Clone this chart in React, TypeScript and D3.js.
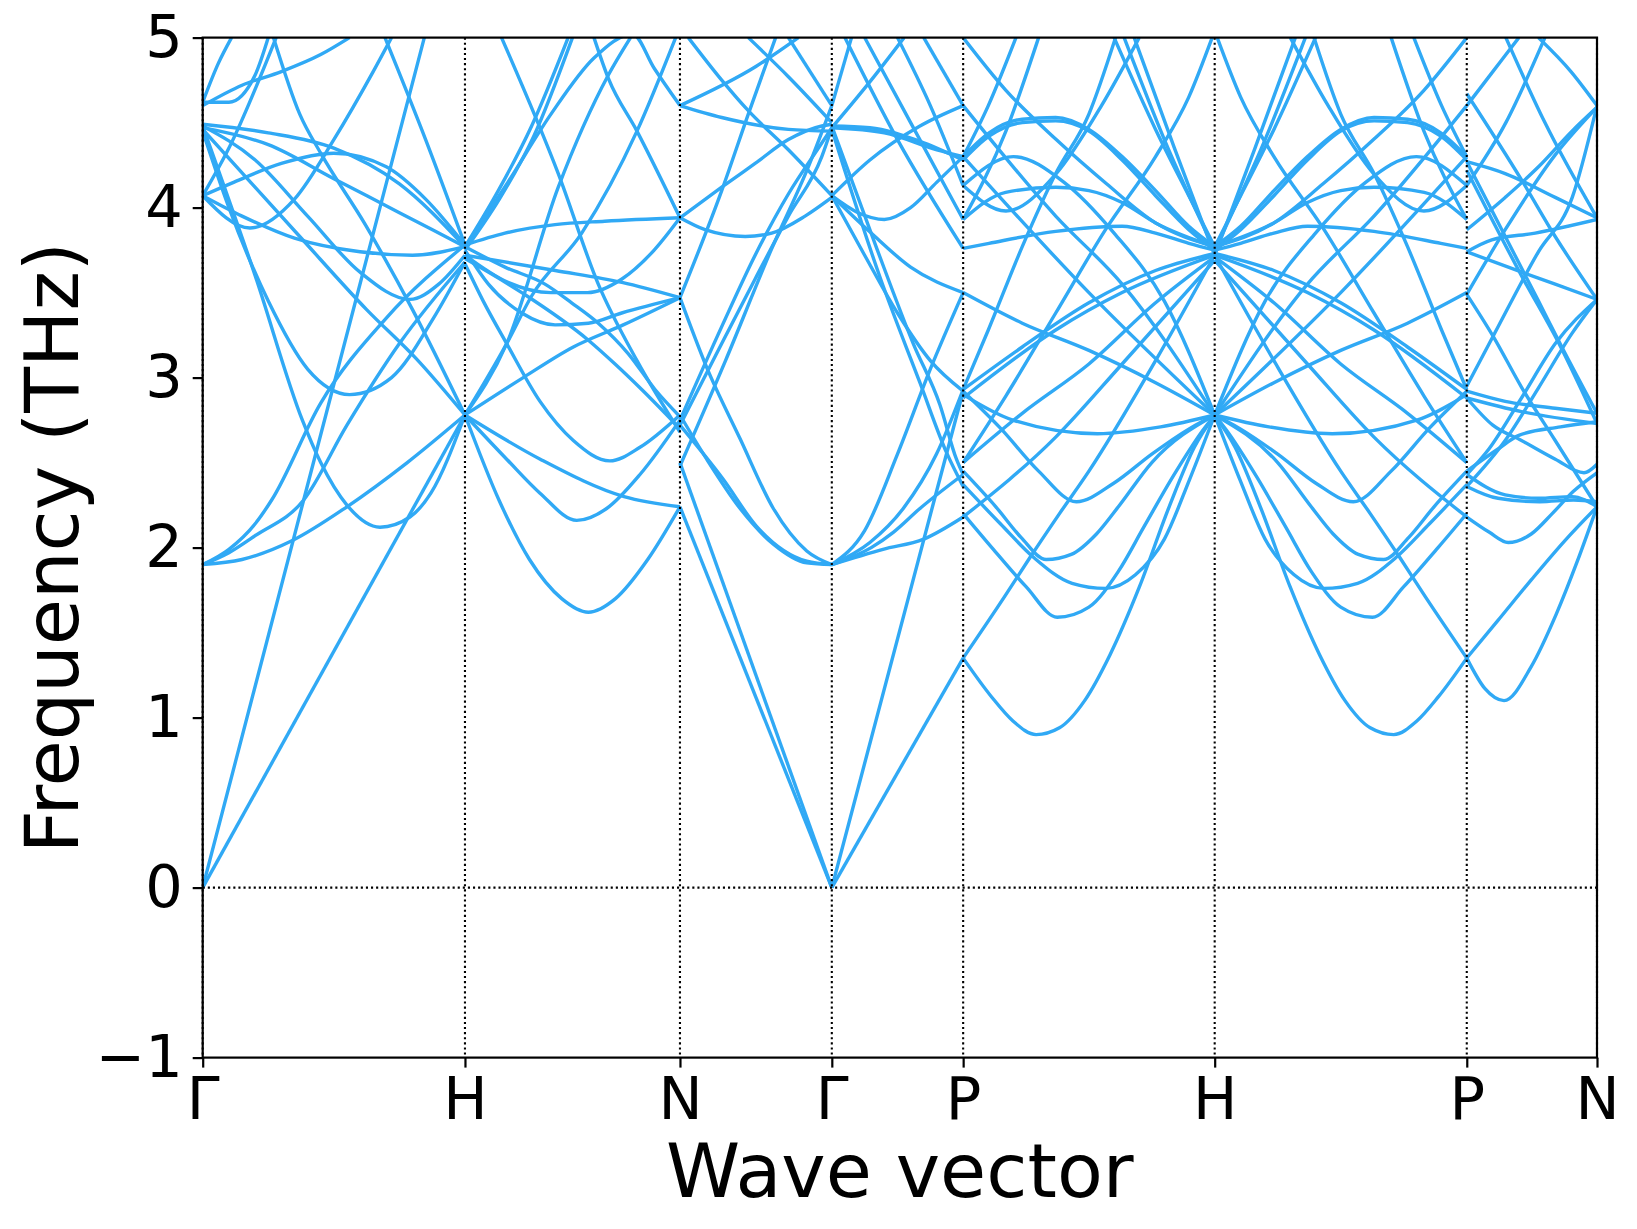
import React, { useEffect, useRef } from 'react';
import * as d3 from 'd3';

type Band = [number, number][]; // [fraction along segment, frequency THz]

const kLabels = ['Γ', 'H', 'N', 'Γ', 'P', 'H', 'P', 'N'];
const kTicks = [0, 0.1881, 0.3423, 0.4512, 0.5454, 0.7258, 0.9066, 1.0];
const yTicks = [-1, 0, 1, 2, 3, 4, 5];

// Γ -> H
const bandsGH: Band[] = [
  [[0, 0], [1, 2.78]],
  [[0, 0], [0.385, 2.28], [0.845, 5.0]],
  [[0, 1.9], [0.15, 1.93], [0.34, 2.04], [0.55, 2.24], [0.78, 2.5], [1, 2.78]],
  [[0, 1.9], [0.1, 1.97], [0.2, 2.07], [0.385, 2.28], [0.55, 2.72], [0.75, 3.2], [1, 3.68]],
  [[0, 1.9], [0.1, 1.99], [0.2, 2.14], [0.263, 2.28], [0.45, 2.85], [0.7, 3.35], [1, 3.78]],
  [[0, 4.48], [0.2, 3.6], [0.38, 2.75], [0.45, 2.5], [0.55, 2.25], [0.676, 2.12], [0.79, 2.18], [0.87, 2.32], [1, 2.78]],
  [[0, 4.45], [0.1, 4.0], [0.25, 3.45], [0.4, 3.05], [0.56, 2.9], [0.72, 3.0], [0.88, 3.35], [1, 3.68]],
  [[0, 4.48], [0.2, 4.28], [0.4, 3.95], [0.6, 3.62], [0.79, 3.46], [0.9, 3.55], [1, 3.72]],
  [[0, 4.07], [0.15, 3.95], [0.35, 3.82], [0.6, 3.74], [0.8, 3.72], [1, 3.77]],
  [[0, 4.07], [0.18, 3.88], [0.35, 4.05], [0.5, 4.4], [0.65, 4.8], [0.72, 5.0]],
  [[0, 4.07], [0.12, 4.15], [0.3, 4.26], [0.5, 4.32], [0.7, 4.24], [0.85, 4.05], [1, 3.78]],
  [[0, 4.49], [0.25, 4.44], [0.5, 4.35], [0.75, 4.14], [1, 3.77]],
  [[0, 4.47], [0.25, 4.37], [0.5, 4.17], [0.75, 3.97], [1, 3.77]],
  [[0, 4.46], [0.37, 3.83], [0.625, 3.4], [0.815, 3.11], [1, 2.78]],
  [[0, 4.62], [0.06, 4.85], [0.11, 5.0]],
  [[0, 4.6], [0.15, 4.72], [0.3, 4.8], [0.45, 4.9], [0.56, 5.0]],
  [[0.695, 5.0], [0.85, 4.4], [1, 3.78]],
  [[0, 4.07], [0.1, 4.35], [0.28, 5.0]],
  [[0, 4.62], [0.1, 4.62], [0.2, 4.78], [0.25, 5.0]],
  [[0.27, 5.0], [0.37, 4.55], [0.45, 4.32], [0.62, 3.9], [0.8, 3.4], [1, 2.78]],
];

// H -> N
const bandsHN: Band[] = [
  [[0, 3.77], [0.155, 4.1], [0.31, 4.48], [0.48, 5.0]],
  [[0, 3.75], [0.16, 4.05], [0.32, 4.42], [0.5, 5.0]],
  [[0, 3.77], [0.2, 4.15], [0.4, 4.55], [0.6, 4.88], [0.78, 5.02], [0.88, 4.82], [1, 4.6]],
  [[0.17, 5.0], [0.434, 4.2], [0.62, 3.55], [0.8, 3.1], [1, 2.68]],
  [[0, 2.78], [0.194, 3.2], [0.434, 4.12], [0.667, 4.78], [0.77, 5.0]],
  [[0, 3.72], [0.2, 3.56], [0.4, 3.5], [0.57, 3.5], [0.73, 3.58], [0.88, 3.75], [1, 3.94]],
  [[0.6, 5.0], [0.667, 4.76], [0.8, 4.45], [1, 3.94]],
  [[0, 2.78], [0.158, 2.28], [0.3, 1.93], [0.45, 1.7], [0.574, 1.62], [0.7, 1.7], [0.85, 1.93], [1, 2.24]],
  [[0, 2.78], [0.194, 2.52], [0.349, 2.32], [0.52, 2.16], [0.659, 2.23], [0.814, 2.43], [1, 2.75]],
  [[0, 2.78], [0.35, 2.52], [0.74, 2.3], [1, 2.24]],
  [[0, 3.67], [0.085, 3.45], [0.194, 3.2], [0.349, 2.86], [0.504, 2.63], [0.674, 2.51], [0.814, 2.59], [1, 2.78]],
  [[0, 2.78], [0.271, 3.0], [0.504, 3.18], [0.736, 3.31], [1, 3.47]],
  [[0, 3.75], [0.109, 3.55], [0.264, 3.38], [0.419, 3.31], [0.574, 3.32], [0.729, 3.38], [1, 3.47]],
  [[0, 3.72], [0.42, 3.63], [0.73, 3.56], [1, 3.47]],
  [[0, 3.78], [0.186, 3.85], [0.419, 3.9], [0.65, 3.92], [1, 3.94]],
  [[0, 3.77], [0.186, 3.65], [0.372, 3.55], [0.496, 3.44], [0.62, 3.32], [0.76, 3.14], [0.884, 2.93], [1, 2.77]],
  [[0, 3.7], [0.264, 3.5], [0.574, 3.22], [0.698, 3.08], [0.822, 2.93], [1, 2.7]],
  [[0, 2.78], [0.194, 3.2], [0.31, 3.48], [0.543, 3.85], [0.8, 4.45], [0.98, 5.0]],
];

// N -> Γ
const bandsNG: Band[] = [
  [[0, 4.6], [0.5, 4.83], [0.78, 5.0]],
  [[0, 4.6], [0.275, 4.53], [0.714, 4.46], [1, 4.45]],
  [[0.055, 5.0], [0.275, 4.75], [0.45, 4.57], [0.714, 4.34], [1, 4.07]],
  [[0, 3.94], [0.275, 4.12], [0.495, 4.26], [0.714, 4.4], [0.934, 4.48], [1, 4.49]],
  [[0, 3.94], [0.165, 3.87], [0.43, 3.83], [0.604, 3.85], [0.824, 3.95], [1, 4.06]],
  [[0, 3.47], [0.275, 4.1], [0.45, 4.55], [0.63, 5.0]],
  [[0, 3.47], [0.176, 3.06], [0.396, 2.64], [0.615, 2.23], [0.835, 1.98], [1, 1.9]],
  [[0, 2.78], [0.176, 2.52], [0.396, 2.23], [0.615, 2.02], [0.835, 1.91], [1, 1.9]],
  [[0, 2.72], [0.286, 2.4], [0.5, 2.13], [0.835, 1.92], [1, 1.9]],
  [[0, 2.24], [1, 0]],
  [[0, 2.5], [1, 0]],
  [[0, 2.75], [0.275, 3.3], [0.495, 3.72], [0.714, 4.08], [0.934, 4.38], [1, 4.47]],
  [[0, 2.72], [0.275, 3.2], [0.495, 3.58], [0.714, 3.95], [0.934, 4.3], [1, 4.47]],
  [[0, 2.48], [0.3, 3.1], [0.6, 3.75], [0.85, 4.25], [1, 4.6]],
  [[0.45, 5.0], [0.714, 4.77], [1, 4.5]],
  [[0.714, 5.0], [1, 4.6]],
];

// Γ -> P
const bandsGP: Band[] = [
  [[0, 0], [1, 1.35]],
  [[0, 0], [0.78, 2.28], [1, 2.92]],
  [[0, 1.9], [0.39, 1.99], [0.7, 2.05], [1, 2.18]],
  [[0, 1.9], [0.3, 2.0], [0.468, 2.09], [0.671, 2.23], [1, 2.43]],
  [[0, 1.9], [0.29, 2.03], [0.544, 2.23], [0.797, 2.55], [1, 2.93]],
  [[0, 4.48], [0.342, 3.76], [0.62, 3.2], [0.823, 2.84], [0.949, 2.52], [1, 2.43]],
  [[0, 4.46], [0.367, 3.59], [0.671, 2.97], [0.873, 2.56], [1, 2.36]],
  [[0, 4.48], [0.29, 4.47], [0.671, 4.39], [1, 4.28]],
  [[0, 4.47], [0.4, 4.44], [0.8, 4.34], [1, 4.3]],
  [[0, 4.07], [0.2, 3.97], [0.4, 3.93], [0.6, 4.0], [0.8, 4.15], [1, 4.3]],
  [[0, 4.07], [0.3, 3.85], [0.6, 3.65], [1, 3.5]],
  [[0, 1.9], [0.25, 2.1], [0.5, 2.55], [0.75, 3.05], [1, 3.5]],
  [[0.1, 5.0], [0.5, 4.4], [1, 3.76]],
  [[0.25, 5.0], [0.6, 4.5], [1, 3.93]],
  [[0, 4.47], [0.3, 4.75], [0.55, 5.0]],
  [[0, 4.6], [0.15, 5.0]],
  [[0, 4.07], [0.29, 4.28], [0.671, 4.48], [1, 4.6]],
  [[0.5, 5.0], [0.75, 4.6], [1, 4.13]],
  [[0.7, 5.0], [1, 4.6]],
  [[0, 4.07], [0.25, 3.72], [0.5, 3.38], [0.75, 3.1], [1, 2.92]],
];

// P -> H (the H -> P segment is the same path walked backwards)
const bandsPH: Band[] = [
  [[0, 1.35], [0.114, 1.12], [0.198, 0.98], [0.29, 0.9], [0.383, 0.94], [0.483, 1.1], [0.584, 1.37], [0.701, 1.77], [0.819, 2.24], [0.919, 2.59], [1, 2.78]],
  [[0, 1.35], [0.164, 1.71], [0.265, 1.94], [0.383, 2.2], [0.5, 2.45], [0.765, 3.1], [1, 3.72]],
  [[0, 2.2], [0.114, 2.0], [0.25, 1.77], [0.374, 1.59], [0.5, 1.65], [0.617, 1.86], [0.718, 2.12], [0.835, 2.42], [0.953, 2.69], [1, 2.78]],
  [[0, 2.37], [0.148, 2.14], [0.282, 1.94], [0.433, 1.79], [0.567, 1.76], [0.685, 1.84], [0.8, 2.05], [0.9, 2.4], [1, 2.78]],
  [[0, 2.45], [0.13, 2.24], [0.23, 2.06], [0.33, 1.93], [0.43, 1.96], [0.53, 2.08], [0.617, 2.24], [0.75, 2.5], [1, 2.78]],
  [[0, 2.9], [0.198, 2.75], [0.534, 2.67], [0.785, 2.71], [1, 2.78]],
  [[0, 2.92], [0.15, 2.7], [0.3, 2.45], [0.45, 2.27], [0.6, 2.38], [0.75, 2.55], [0.9, 2.7], [1, 2.78]],
  [[0, 4.3], [0.103, 4.44], [0.235, 4.52], [0.368, 4.53], [0.5, 4.46], [0.632, 4.3], [0.765, 4.1], [0.897, 3.89], [1, 3.77]],
  [[0, 4.28], [0.103, 4.42], [0.235, 4.5], [0.368, 4.51], [0.5, 4.45], [0.632, 4.28], [0.765, 4.07], [0.897, 3.87], [1, 3.75]],
  [[0, 3.93], [0.169, 4.09], [0.368, 4.12], [0.5, 4.1], [0.632, 4.03], [0.765, 3.91], [1, 3.77]],
  [[0, 3.76], [0.103, 3.79], [0.368, 3.86], [0.632, 3.89], [0.765, 3.85], [0.897, 3.79], [1, 3.75]],
  [[0, 2.93], [0.235, 3.18], [0.5, 3.44], [0.765, 3.63], [1, 3.73]],
  [[0, 2.88], [0.368, 3.28], [0.632, 3.5], [1, 3.72]],
  [[0, 2.5], [0.235, 2.79], [0.5, 3.08], [0.765, 3.44], [1, 3.71]],
  [[0, 2.18], [0.368, 2.65], [0.632, 3.08], [1, 3.69]],
  [[0, 4.3], [0.5, 3.5], [1, 2.78]],
  [[0, 4.6], [0.368, 3.95], [0.632, 3.55], [1, 2.78]],
  [[0, 3.5], [0.235, 3.32], [0.5, 3.16], [0.765, 2.97], [1, 2.78]],
  [[0.6, 5.0], [0.765, 4.46], [0.897, 4.07], [1, 3.77]],
  [[0.64, 5.0], [0.8, 4.4], [1, 3.75]],
  [[0.68, 5.0], [0.84, 4.35], [1, 3.72]],
  [[0, 4.3], [0.1, 4.6], [0.21, 5.0]],
  [[0, 3.93], [0.17, 4.45], [0.3, 5.0]],
  [[0, 2.93], [0.1, 3.28], [0.235, 3.77], [0.368, 4.2], [0.5, 4.55], [0.606, 5.0]],
  [[0, 2.5], [0.169, 2.89], [0.368, 3.38], [0.566, 3.87], [0.765, 4.3], [0.897, 4.65], [0.99, 5.0]],
  [[0, 5.0], [0.17, 4.69], [0.37, 4.4], [0.57, 4.14], [0.765, 3.91], [1, 3.77]],
  [[0, 4.13], [0.17, 3.98], [0.37, 4.2], [0.55, 4.6], [0.7, 5.0]],
  [[0, 4.13], [0.2, 4.3], [0.4, 4.15], [0.6, 3.85], [0.8, 3.45], [1, 2.78]],
];

// P -> N
const bandsPN: Band[] = [
  [[0, 1.35], [0.14, 1.17], [0.286, 1.1], [0.495, 1.3], [0.688, 1.61], [0.849, 1.92], [1, 2.24]],
  [[0, 1.35], [0.238, 1.57], [0.495, 1.81], [0.752, 2.04], [1, 2.24]],
  [[0, 2.18], [0.174, 2.09], [0.318, 2.03], [0.495, 2.08], [0.656, 2.2], [0.817, 2.33], [1, 2.44]],
  [[0, 2.36], [0.24, 2.29], [0.56, 2.27], [0.82, 2.28], [1, 2.27]],
  [[0, 2.45], [0.24, 2.58], [0.4, 2.66], [0.72, 2.71], [1, 2.74]],
  [[0, 2.43], [0.295, 2.31], [0.551, 2.29], [0.808, 2.3], [1, 2.24]],
  [[0, 2.92], [0.295, 2.86], [0.679, 2.82], [1, 2.79]],
  [[0, 2.88], [0.42, 2.8], [1, 2.73]],
  [[0, 2.88], [0.2, 2.72], [0.42, 2.63], [0.68, 2.52], [0.9, 2.44], [1, 2.49]],
  [[0, 2.36], [0.295, 2.63], [0.551, 2.94], [0.808, 3.26], [1, 3.46]],
  [[0, 2.43], [0.17, 2.58], [0.42, 2.88], [0.68, 3.2], [1, 3.46]],
  [[0, 4.27], [0.551, 3.45], [0.73, 3.18], [1, 2.79]],
  [[0, 4.22], [0.42, 3.6], [0.708, 3.2], [1, 2.73]],
  [[0, 3.49], [0.205, 3.24], [0.423, 2.94], [0.679, 2.63], [1, 2.24]],
  [[0, 3.49], [0.295, 3.87], [0.679, 4.31], [1, 4.59]],
  [[0, 3.74], [0.192, 3.81], [0.526, 3.85], [1, 3.93]],
  [[0, 4.27], [0.295, 4.2], [0.679, 4.06], [1, 3.94]],
  [[0, 3.74], [0.423, 3.62], [0.679, 3.55], [1, 3.46]],
  [[0, 4.67], [0.423, 4.16], [0.679, 3.83], [1, 3.46]],
  [[0, 2.95], [0.2, 3.24], [0.55, 3.74], [0.81, 4.06], [1, 4.6]],
  [[0, 3.87], [0.295, 4.06], [0.551, 4.24], [0.808, 4.45], [1, 4.59]],
  [[0.55, 5.0], [0.8, 4.8], [1, 4.6]],
  [[0, 4.6], [0.2, 4.8], [0.4, 5.0]],
  [[0, 4.13], [0.3, 4.5], [0.6, 5.0]],
  [[0.3, 5.0], [0.6, 4.5], [1, 3.94]],
];

const reversed = (bands: Band[]): Band[] =>
  bands.map(b => b.map(([t, f]) => [1 - t, f] as [number, number]).reverse());

const segments: { from: number; bands: Band[] }[] = [
  { from: 0, bands: bandsGH },
  { from: 1, bands: bandsHN },
  { from: 2, bands: bandsNG },
  { from: 3, bands: bandsGP },
  { from: 4, bands: bandsPH },
  { from: 5, bands: reversed(bandsPH) },
  { from: 6, bands: bandsPN },
];

const W = 1637;
const H = 1229;
const left = 202.7;
const right = 1597;
const top = 37.6;
const bottom = 1057.6;
const font = 'DejaVu Sans, sans-serif';

export default function App() {
  const ref = useRef<SVGSVGElement>(null);

  useEffect(() => {
    const svg = d3.select(ref.current);
    svg.selectAll('*').remove();

    const x = d3.scaleLinear().domain([0, 1]).range([left, right]);
    const y = d3.scaleLinear().domain([-1, 5]).range([bottom, top]);

    svg.append('rect').attr('width', W).attr('height', H).attr('fill', '#fff');

    svg.append('clipPath').attr('id', 'plot-clip')
      .append('rect')
      .attr('x', left).attr('y', top)
      .attr('width', right - left).attr('height', bottom - top);

    const plot = svg.append('g').attr('clip-path', 'url(#plot-clip)');

    segments.forEach(seg => {
      const k0 = kTicks[seg.from];
      const k1 = kTicks[seg.from + 1];
      const line = d3.line<[number, number]>()
        .x(d => x(k0 + d[0] * (k1 - k0)))
        .y(d => y(d[1]))
        .curve(d3.curveMonotoneX);
      plot.selectAll(null)
        .data(seg.bands)
        .enter()
        .append('path')
        .attr('d', d => line(d))
        .attr('fill', 'none')
        .attr('stroke', '#30a9f5')
        .attr('stroke-width', 3.4)
        .attr('stroke-linejoin', 'round');
    });

    // dotted guides
    const guides = svg.append('g')
      .attr('stroke', '#000')
      .attr('stroke-width', 2.1)
      .attr('stroke-dasharray', '2.1,3');
    kTicks.forEach(k => {
      guides.append('line')
        .attr('x1', x(k)).attr('x2', x(k))
        .attr('y1', top).attr('y2', bottom);
    });
    guides.append('line')
      .attr('x1', left).attr('x2', right)
      .attr('y1', y(0)).attr('y2', y(0));

    // frame
    svg.append('rect')
      .attr('x', left).attr('y', top)
      .attr('width', right - left).attr('height', bottom - top)
      .attr('fill', 'none')
      .attr('stroke', '#000')
      .attr('stroke-width', 2.2);

    const yAxis = svg.append('g')
      .attr('transform', `translate(${left},0)`)
      .call(d3.axisLeft(y)
        .tickValues(yTicks)
        .tickSize(10)
        .tickPadding(10)
        .tickSizeOuter(0)
        .tickFormat(d => (+d < 0 ? '\u2212' + Math.abs(+d) : String(d))));
    yAxis.select('.domain').remove();

    const xAxis = svg.append('g')
      .attr('transform', `translate(0,${bottom})`)
      .call(d3.axisBottom(x)
        .tickValues(kTicks)
        .tickSize(10)
        .tickPadding(10)
        .tickSizeOuter(0)
        .tickFormat((_, i) => kLabels[i]));
    xAxis.select('.domain').remove();

    [xAxis, yAxis].forEach(a => {
      a.selectAll('line').attr('stroke', '#000').attr('stroke-width', 2.2);
      a.selectAll('text')
        .attr('fill', '#000')
        .style('font-family', font)
        .style('font-size', '59px');
    });

    svg.append('text')
      .attr('x', (left + right) / 2)
      .attr('y', 1197)
      .attr('text-anchor', 'middle')
      .style('font-family', font)
      .style('font-size', '75px')
      .text('Wave vector');

    svg.append('text')
      .attr('transform', `translate(78,${(top + bottom) / 2}) rotate(-90)`)
      .attr('text-anchor', 'middle')
      .style('font-family', font)
      .style('font-size', '75px')
      .text('Frequency (THz)');
  }, []);

  return (
    <svg
      ref={ref}
      width={W}
      height={H}
      style={{ position: 'absolute', left: 0, top: 0, display: 'block' }}
    />
  );
}
